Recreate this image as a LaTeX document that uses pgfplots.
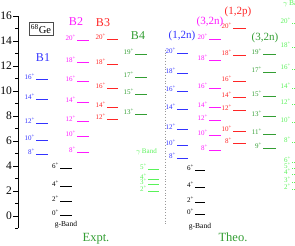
\documentclass[border=0pt]{standalone}
\usepackage{pgfplots}
\pgfplotsset{compat=1.18}
\usepackage{fontspec}
\setmainfont{Liberation Serif}
\definecolor{colB}{rgb}{0.2,0.2,1}
\definecolor{colM}{rgb}{1,0.1,1}
\definecolor{colR}{rgb}{1,0.15,0.15}
\definecolor{colG}{rgb}{0.2,0.62,0.2}
\definecolor{colLG}{rgb}{0.35,0.95,0.35}
\definecolor{colGray}{rgb}{0.6,0.6,0.6}
\newcommand\lev[5]{\addplot[color=#1,line width=1pt,forget plot] coordinates {(#2,#4) (#3,#4)} node[pos=0,anchor=base east,font=\fontsize{7}{7.5}\selectfont,text=#1,inner sep=0.6pt]{#5\textsuperscript{+}};}
\newcommand\levd[5]{\addplot[color=#1,line width=1pt,dash pattern=on 1pt off 1pt,forget plot] coordinates {(#2,#4) (#3,#4)} node[pos=0,anchor=base east,font=\fontsize{7}{7.5}\selectfont,text=#1,inner sep=0.6pt]{#5\textsuperscript{+}};}
\begin{document}
\begin{tikzpicture}
\begin{axis}[
  x=1pt, y=12.5pt,
  xmin=18, xmax=295, ymin=-1, ymax=16,
  axis x line=none, axis y line=left,
  axis line style={-, black},
  ytick={0,2,...,16}, minor ytick={-1,1,...,15},
  tick align=outside, major tick length=5pt, minor tick length=3pt,
  tick style={black},
  yticklabel style={font=\fontsize{11.5}{13}\selectfont, inner sep=1pt},
  /pgf/number format/assume math mode=true,
  clip=false,
]
\coordinate (bl) at (axis cs:0,-2.4);
\coordinate (tr) at (axis cs:295,17.28);
% B1 (expt)
\lev{colB}{36}{48}{4.93}{8}
\lev{colB}{36}{48}{6.03}{10}
\lev{colB}{36}{48}{7.41}{12}
\lev{colB}{36}{48}{9.28}{14}
\lev{colB}{36}{48}{10.93}{16}
% g-band expt
\lev{black}{60}{72}{0}{0}
\lev{black}{60}{72}{1.12}{2}
\lev{black}{60}{72}{2.37}{4}
\lev{black}{60}{72}{3.76}{6}
% B2
\lev{colM}{77}{89}{5.09}{8}
\lev{colM}{77}{89}{6.35}{10}
\lev{colM}{77}{89}{7.55}{12}
\lev{colM}{77}{89}{9.07}{14}
\lev{colM}{77}{89}{10.75}{16}
\lev{colM}{77}{89}{12.29}{18}
\lev{colM}{77}{89}{14.0}{20}
% B3
\lev{colR}{107}{118}{7.68}{12}
\lev{colR}{107}{118}{8.69}{14}
\lev{colR}{107}{118}{10.21}{16}
\lev{colR}{107}{118}{12.13}{18}
\lev{colR}{107}{118}{14.13}{20}
% B4
\lev{colG}{135}{147}{8.13}{13}
\lev{colG}{135}{147}{9.68}{15}
\lev{colG}{135}{147}{11.07}{17}
\lev{colG}{135}{147}{12.93}{19}
% gamma band expt
\lev{colLG}{148}{159}{1.94}{2}
\lev{colLG}{148}{159}{2.48}{3}
\lev{colLG}{148}{159}{2.88}{4}
\lev{colLG}{148}{159}{3.73}{5}
% theory (1,2n)
\lev{colB}{177}{188}{4.61}{8}
\lev{colB}{177}{188}{5.6}{10}
\lev{colB}{177}{188}{6.88}{12}
\lev{colB}{177}{188}{8.48}{14}
\lev{colB}{177}{188}{9.95}{16}
\lev{colB}{177}{188}{11.36}{18}
\lev{colB}{177}{188}{13.01}{20}
% g-band theo
\lev{black}{195}{205}{0.1}{0}
\lev{black}{195}{205}{1.07}{2}
\lev{black}{195}{205}{2.27}{4}
\lev{black}{195}{205}{3.6}{6}
% (3,2n) magenta theo
\lev{colM}{209}{221}{5.2}{8}
\lev{colM}{209}{221}{6.43}{10}
\lev{colM}{209}{221}{7.63}{12}
\lev{colM}{209}{221}{8.67}{14}
\lev{colM}{209}{221}{10.16}{16}
\lev{colM}{209}{221}{12.4}{18}
\lev{colM}{209}{221}{14.08}{20}
% (1,2p) red theo
\lev{colR}{233}{246}{5.76}{8}
\lev{colR}{233}{246}{6.75}{10}
\lev{colR}{233}{246}{8.4}{12}
\lev{colR}{233}{246}{9.47}{14}
\lev{colR}{233}{246}{10.75}{16}
\lev{colR}{233}{246}{12.83}{18}
\lev{colR}{233}{246}{15.0}{20}
% (3,2n) green theo
\lev{colG}{263}{276}{5.41}{9}
\lev{colG}{263}{276}{6.48}{11}
\lev{colG}{263}{276}{7.95}{13}
\lev{colG}{263}{276}{9.55}{15}
\lev{colG}{263}{276}{11.47}{17}
\lev{colG}{263}{276}{12.93}{19}
% gamma band theo
\levd{colLG}{292}{304}{2.1}{2}
\levd{colLG}{292}{304}{2.7}{3}
\levd{colLG}{292}{304}{3.3}{4}
\levd{colLG}{292}{304}{3.8}{5}
\levd{colLG}{292}{304}{4.3}{6}
\levd{colLG}{292}{304}{5.9}{8}
\levd{colLG}{292}{304}{7.5}{10}
\levd{colLG}{292}{304}{8.9}{12}
\levd{colLG}{292}{304}{10.2}{14}
\levd{colLG}{292}{304}{11.7}{16}
\levd{colLG}{292}{304}{13.5}{18}
\levd{colLG}{292}{304}{15.4}{20}
% separator
\addplot[colGray, dotted, line width=0.8pt, forget plot] coordinates {(165,13.3) (165,-0.8)};
% labels
\node[draw=black!70, inner sep=2pt, font=\fontsize{10.5}{12}\selectfont] at (axis cs:41,14.96) {\textsuperscript{68}Ge};
\node[text=colB, font=\fontsize{12}{14}\selectfont] at (axis cs:43,12.64) {B1};
\node[text=colM, font=\fontsize{12}{14}\selectfont] at (axis cs:76,15.52) {B2};
\node[text=colR, font=\fontsize{12}{14}\selectfont] at (axis cs:103,15.44) {B3};
\node[text=colG, font=\fontsize{12}{14}\selectfont] at (axis cs:138,14.4) {B4};
\node[text=colLG, anchor=west, inner sep=0pt, font=\fontsize{7}{8}\selectfont] at (axis cs:136,5.12) {$\gamma$\,Band};
\node[font=\fontsize{7.5}{8}\selectfont] at (axis cs:66,-0.72) {g-Band};
\node[font=\fontsize{7.5}{8}\selectfont] at (axis cs:200,-0.88) {g-Band};
\node[text=colG, font=\fontsize{12.5}{14}\selectfont] at (axis cs:96,-1.78) {Expt.};
\node[text=colG, font=\fontsize{12.5}{14}\selectfont] at (axis cs:233,-1.7) {Theo.};
\node[text=colB, font=\fontsize{11}{13}\selectfont] at (axis cs:182,14.4) {(1,2n)};
\node[text=colM, font=\fontsize{11}{13}\selectfont] at (axis cs:210,15.52) {(3,2n)};
\node[text=colR, font=\fontsize{11}{13}\selectfont] at (axis cs:238,16.32) {(1,2p)};
\node[text=colG, font=\fontsize{11}{13}\selectfont] at (axis cs:265,14.24) {(3,2n)};
\node[text=colLG, anchor=west, inner sep=0pt, font=\fontsize{7.5}{8}\selectfont] at (axis cs:283,16.96) {$\gamma$\,Band};
\end{axis}
\pgfresetboundingbox
\path[use as bounding box] (bl) rectangle (tr);
\end{tikzpicture}
\end{document}
